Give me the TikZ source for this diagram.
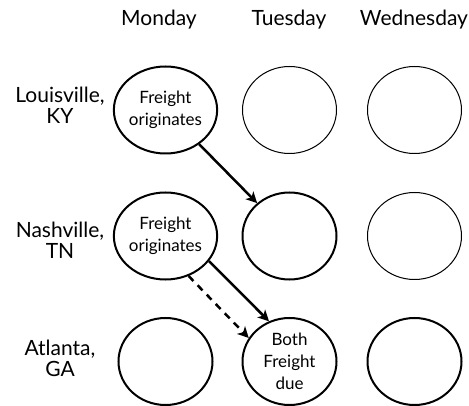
\documentclass[tikz,border=0pt]{standalone}
\usepackage{fontspec}
\setmainfont{Lato}
\usetikzlibrary{shapes.geometric,arrows.meta}
\begin{document}
\begin{tikzpicture}[x=1pt,y=-1pt,
 cell/.style={ellipse,draw,minimum width=94pt,minimum height=87pt,inner sep=0pt,align=center,font=\fontsize{17}{22}\selectfont},
 thickc/.style={line width=2pt},
 thinc/.style={line width=1pt},
 hdr/.style={font=\fontsize{21}{21}\selectfont,align=center},
 arr/.style={line width=2.5pt,-{Stealth[length=11pt,width=11pt,inset=3pt]}},
]
\useasboundingbox (0,0) rectangle (469,406);
% headers
\node[hdr] (hmon) at (159,20) {Monday};
\node[hdr] (htue) at (289,20) {Tuesday};
\node[hdr] (hwed) at (414,20) {Wednesday};
\node[hdr] (clou) at (60,105) {Louisville,\\KY};
\node[hdr] (cnas) at (60,240) {Nashville,\\TN};
\node[hdr] (catl) at (60,358) {Atlanta,\\GA};
% row 1
\node[cell,thickc] (lm) at (165.5,110) {Freight\\originates};
\node[cell,thinc] (lt) at (289.5,110) {};
\node[cell,thinc] (lw) at (414.5,110) {};
% row 2
\node[cell,thickc] (nm) at (165.5,236) {Freight\\originates};
\node[cell,thickc] (nt) at (289.5,236) {};
\node[cell,thinc] (nw) at (414.5,236) {};
% row 3
\node[cell,thickc] (am) at (165.5,361.5) {};
\node[cell,thickc] (at) at (289.5,361.5) {Both\\Freight\\due};
\node[cell,thickc] (aw) at (414.5,361.5) {};
% arrows
\draw[arr] (lm) -- (nt);
\draw[arr] (nm.-30) -- (at.117);
\draw[arr,dash pattern=on 7pt off 6pt] (nm.-60) -- (at.150);
\end{tikzpicture}
\end{document}
